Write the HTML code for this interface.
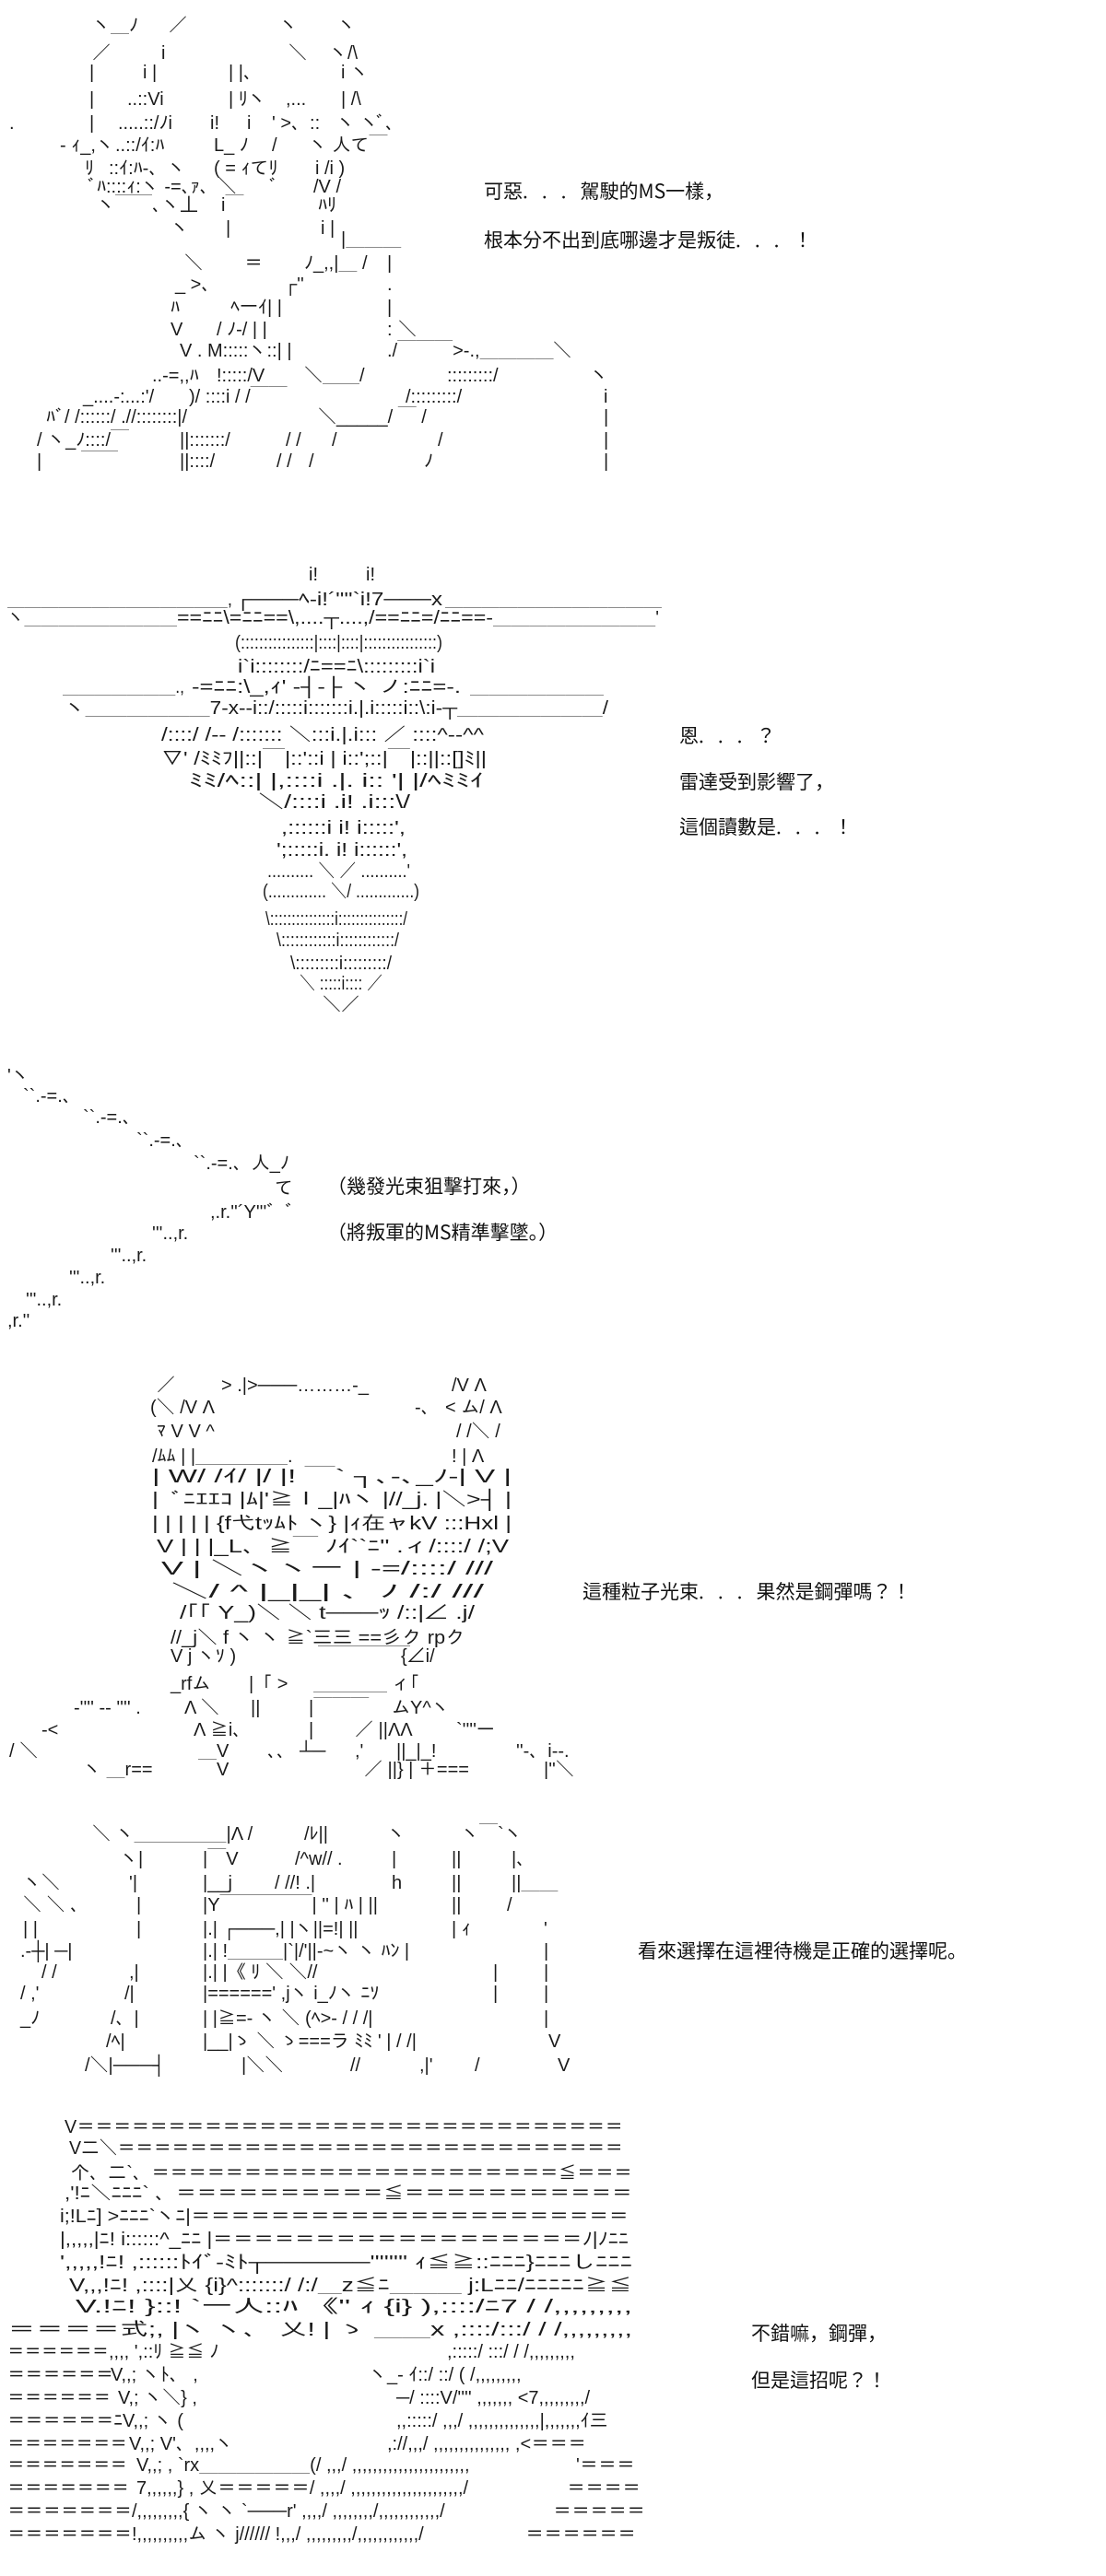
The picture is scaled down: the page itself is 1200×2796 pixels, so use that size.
<!DOCTYPE html>
<html><head><meta charset="utf-8"><style>
html,body{margin:0;padding:0;background:#fff;}
svg{display:block;}
.a{font-family:"Liberation Sans","IPAGothic","Noto Sans CJK JP",sans-serif;font-size:20px;fill:#1a1a1a;white-space:pre;}
.d{font-family:"Noto Sans CJK JP","Liberation Sans",sans-serif;font-size:21px;fill:#111;}
.p{letter-spacing:15px;}
</style></head><body>
<svg width="1200" height="2796" viewBox="0 0 1200 2796" xmlns="http://www.w3.org/2000/svg">
<g class="a">
<!-- Panel 1 -->
<text y="34"><tspan x="100">ヽ＿ﾉ</tspan><tspan x="183">／</tspan><tspan x="303">ヽ</tspan><tspan x="366">ヽ</tspan></text>
<text y="64"><tspan x="100">／</tspan><tspan x="175">i</tspan><tspan x="313">＼</tspan><tspan x="357">ヽ/\</tspan></text>
<text y="85"><tspan x="97">|</tspan><tspan x="155">i |</tspan><tspan x="248">| |、</tspan><tspan x="370">i ヽ</tspan></text>
<text y="114"><tspan x="97">|</tspan><tspan x="138">..::Vi</tspan><tspan x="248">| ﾘヽ</tspan><tspan x="310">,...</tspan><tspan x="370">| /\</tspan></text>
<text y="140"><tspan x="10">.</tspan><tspan x="97">|</tspan><tspan x="128">.....::/ﾉi</tspan><tspan x="228">i!</tspan><tspan x="268">i</tspan><tspan x="295">' &gt;、::</tspan><tspan x="365">ヽ ヽ</tspan><tspan x="408">ﾞ､</tspan></text>
<text y="164"><tspan x="65">- ｨ_,ヽ</tspan><tspan x="125">..::/ｲ:ﾊ</tspan><tspan x="232">L_ ﾉ</tspan><tspan x="295">/</tspan><tspan x="335">ヽ 人て￣</tspan></text>
<text y="189"><tspan x="92">ﾘ</tspan><tspan x="118">::ｲ:ﾊ-、ヽ</tspan><tspan x="232">( = ｨてﾘ</tspan><tspan x="342">i /i )</tspan></text>
<text y="209"><tspan x="95">ﾞﾊ::::ｨ:ヽ -=､ｧ、＼</tspan><tspan x="292">ﾞ</tspan><tspan x="340">/V /</tspan></text>
<text y="229"><tspan x="105">ヽ￣￣､ヽ丄</tspan><tspan x="240">i￣</tspan><tspan x="345">ﾊﾘ</tspan></text>
<text y="254"><tspan x="185">ヽ</tspan><tspan x="245">|</tspan><tspan x="348">i |</tspan></text>
<text y="266"><tspan x="370">|＿＿＿</tspan></text>
<text y="292"><tspan x="200">＼</tspan><tspan x="265">＝</tspan><tspan x="330">ﾉ_,,|＿ /</tspan><tspan x="420">|</tspan></text>
<text y="315"><tspan x="190">_ &gt;､</tspan><tspan x="308">┌''</tspan><tspan x="420">.</tspan></text>
<text y="340"><tspan x="185">ﾊ</tspan><tspan x="250">ﾍ一ｲ| |</tspan><tspan x="420">|</tspan></text>
<text y="364"><tspan x="185">V</tspan><tspan x="235">/ ﾉ-/ | |</tspan><tspan x="420">:</tspan><tspan x="432">＼</tspan></text>
<text y="387"><tspan x="195">V . M:::::ヽ::| |</tspan><tspan x="420">./￣￣￣&gt;-.,＿＿＿＿</tspan><tspan x="600">＼</tspan></text>
<text y="414"><tspan x="165">..-=,,ﾊ</tspan><tspan x="235">!:::::/V</tspan><tspan x="330">＼＿＿/</tspan><tspan x="485">:::::::::/</tspan><tspan x="640">ヽ</tspan></text>
<text y="437"><tspan x="90">_....-:...:'/</tspan><tspan x="205">)/ ::::i / /￣￣</tspan><tspan x="440">/:::::::::/</tspan><tspan x="655">i</tspan></text>
<text y="459"><tspan x="50">ﾊﾞ/ /::::::/ .//::::::::|/</tspan><tspan x="345">＼_____/ ￣ /</tspan><tspan x="655">|</tspan></text>
<text y="484"><tspan x="40">/ ヽ_ﾉ::::/￣</tspan><tspan x="195">||:::::::/</tspan><tspan x="310">/ /</tspan><tspan x="360">/</tspan><tspan x="475">/</tspan><tspan x="655">|</tspan></text>
<text y="507"><tspan x="40">|</tspan><tspan x="88">￣￣</tspan><tspan x="195">||::::/</tspan><tspan x="300">/ /</tspan><tspan x="335">/</tspan><tspan x="460">ﾉ</tspan><tspan x="655">|</tspan></text>

<!-- Panel 2 -->
<text y="630"><tspan x="335">i!</tspan><tspan x="397">i!</tspan></text>
<text x="8" y="657" textLength="244" lengthAdjust="spacingAndGlyphs">＿＿＿＿＿＿＿＿＿＿＿＿＿,</text>
<text x="255" y="657" textLength="225" lengthAdjust="spacingAndGlyphs">┌───ﾍ-i!´''''`i!7───x</text>
<text x="483" y="657" textLength="235" lengthAdjust="spacingAndGlyphs">＿＿＿＿＿＿＿＿＿＿＿＿</text>
<text x="8" y="677" textLength="184" lengthAdjust="spacingAndGlyphs">ヽ＿＿＿＿＿＿＿＿＿</text>
<text x="192" y="677" textLength="343" lengthAdjust="spacingAndGlyphs">==ﾆﾆ\=ﾆﾆ==\,....┬....,/==ﾆﾆ=/ﾆﾆ==-</text>
<text x="535" y="677" textLength="180" lengthAdjust="spacingAndGlyphs">＿＿＿＿＿＿＿＿＿'</text>
<text x="255" y="704" textLength="225" lengthAdjust="spacingAndGlyphs">(::::::::::::::::|::::|::::|::::::::::::::::)</text>
<text x="258" y="730" textLength="214" lengthAdjust="spacingAndGlyphs">i`i::::::::/ﾆ==ﾆ\:::::::::i`i</text>
<text x="68" y="752" textLength="132" lengthAdjust="spacingAndGlyphs">＿＿＿＿＿＿＿.,</text>
<text x="208" y="752" textLength="292" lengthAdjust="spacingAndGlyphs">-=ﾆﾆ:\_,ｨ' -┤-├ ヽ ノ:ﾆﾆ=-.</text>
<text x="510" y="752" textLength="145" lengthAdjust="spacingAndGlyphs">＿＿＿＿＿＿＿</text>
<text x="70" y="775" textLength="590" lengthAdjust="spacingAndGlyphs">ヽ＿＿＿＿＿＿7-x--i::/:::::i:::::::i.|.i:::::i::\:i-┬＿＿＿＿＿＿＿/</text>
<text x="175" y="804" textLength="350" lengthAdjust="spacingAndGlyphs">/::::/ /-- /::::::: ＼:::i.|.i::: ／ ::::^--^^</text>
<text x="175" y="830" textLength="353" lengthAdjust="spacingAndGlyphs">▽' /ﾐﾐﾌ||::|￣|::'::i | i::';::|￣|::||::[]ﾐ||</text>
<text x="205" y="854" textLength="320" lengthAdjust="spacingAndGlyphs">ﾐﾐ/ﾍ::|  |,::::i .|. i:: '| |/ﾍﾐﾐｲ</text>
<text x="280" y="877" textLength="165" lengthAdjust="spacingAndGlyphs">＼/::::i .i! .i:::\/</text>
<text x="305" y="905" textLength="135" lengthAdjust="spacingAndGlyphs">,::::::i  i!  i:::::',</text>
<text x="300" y="929" textLength="142" lengthAdjust="spacingAndGlyphs">';:::::i.  i!  i::::::',</text>
<text x="290" y="952" textLength="155" lengthAdjust="spacingAndGlyphs">.......... ＼ ／ ..........'</text>
<text x="285" y="974" textLength="170" lengthAdjust="spacingAndGlyphs">(............. ＼/ .............)</text>
<text x="288" y="1004" textLength="154" lengthAdjust="spacingAndGlyphs">\:::::::::::::::i:::::::::::::::/</text>
<text x="300" y="1027" textLength="133" lengthAdjust="spacingAndGlyphs">\::::::::::::i::::::::::::/</text>
<text x="315" y="1052" textLength="110" lengthAdjust="spacingAndGlyphs">\:::::::::i:::::::::/</text>
<text x="325" y="1074" textLength="90" lengthAdjust="spacingAndGlyphs">＼ :::::i:::: ／</text>
<text x="350" y="1097">＼／</text>

<!-- Panel 3 -->
<text y="1174"><tspan x="8">'ヽ</tspan></text>
<text y="1196"><tspan x="25">``.-=.、</tspan></text>
<text y="1219"><tspan x="90">``.-=.、</tspan></text>
<text y="1244"><tspan x="148">``.-=.、</tspan></text>
<text y="1269"><tspan x="210">``.-=.、人_ﾉ</tspan></text>
<text y="1296"><tspan x="298">て</tspan></text>
<text y="1322"><tspan x="228">,.r.''´Y'''ﾞ ﾞ</tspan></text>
<text y="1345"><tspan x="165">'''..,r.</tspan></text>
<text y="1369"><tspan x="120">'''..,r.</tspan></text>
<text y="1393"><tspan x="75">'''..,r.</tspan></text>
<text y="1417"><tspan x="28">'''..,r.</tspan></text>
<text y="1440"><tspan x="8">,r.''</tspan></text>

<!-- Panel 4 -->
<text y="1510"><tspan x="170">／</tspan><tspan x="240">&gt; .|&gt;───………-_</tspan><tspan x="490">/V  Λ</tspan></text>
<text y="1534"><tspan x="163">(＼ /V Λ</tspan><tspan x="450">-、</tspan><tspan x="483">&lt; ム/ Λ</tspan></text>
<text y="1560"><tspan x="170">ﾏ V   V ^</tspan><tspan x="495">/ /＼ /</tspan></text>
<text y="1587"><tspan x="165">/ﾑﾑ   |   |＿＿＿＿＿.</tspan><tspan x="490">! |  Λ</tspan></text>
<text x="165" y="1609" textLength="390" lengthAdjust="spacingAndGlyphs">|   W/  /ｲ/ |/ |!   ￣`   ┐､-､_ﾉ-| V |</text>
<text x="165" y="1634" textLength="390" lengthAdjust="spacingAndGlyphs">|   ﾞﾆｴｴｺ |ﾑ|'≧ｌ_|ﾊヽ   |//_j.  |＼&gt;┤ |</text>
<text x="165" y="1660" textLength="390" lengthAdjust="spacingAndGlyphs">|    | | | | {f弋tｯﾑﾄ ヽ}  |ｨ在ャkV :::Hxl |</text>
<text x="170" y="1685" textLength="382" lengthAdjust="spacingAndGlyphs">V    | | |_L、≧￣     ﾉｲ``ﾆ'' .ィ/::::/ /;V</text>
<text x="175" y="1709" textLength="360" lengthAdjust="spacingAndGlyphs">V   | ＼ヽヽ一       |     -=/::::/ ///</text>
<text x="185" y="1734" textLength="340" lengthAdjust="spacingAndGlyphs">＼/ ^ |_|_|        、ﾉ     /:/ ///</text>
<text x="195" y="1757" textLength="320" lengthAdjust="spacingAndGlyphs">/｢｢ Y_)＼ ＼   t───ｯ   /::|∠ .j/</text>
<text x="185" y="1784" textLength="320" lengthAdjust="spacingAndGlyphs">//_j＼ f ヽ ヽ  ≧`三三 ==彡ク rpク</text>
<text y="1804"><tspan x="185">V j   ヽｿ )</tspan><tspan x="345">￣￣￣￣￣</tspan><tspan x="435">{∠i/</tspan></text>
<text y="1834"><tspan x="185">_rfム</tspan><tspan x="270">|「 &gt;</tspan><tspan x="340">＿＿＿＿</tspan><tspan x="425">ィ｢</tspan></text>
<text y="1860"><tspan x="80">-'''' -- '''' .</tspan><tspan x="200">Λ ＼</tspan><tspan x="272">||</tspan><tspan x="335">|￣￣￣</tspan><tspan x="425">ムY^ヽ</tspan></text>
<text y="1884"><tspan x="45">-&lt;</tspan><tspan x="210">Λ  ≧i、</tspan><tspan x="335">|</tspan><tspan x="385">／ ||ΛΛ</tspan><tspan x="495">`''''ー</tspan></text>
<text y="1907"><tspan x="10">/    ＼</tspan><tspan x="235">V</tspan><tspan x="290">､､</tspan><tspan x="325">┴─</tspan><tspan x="385">,'</tspan><tspan x="430">||_|_!</tspan><tspan x="560">''-、i--.</tspan></text>
<text y="1927"><tspan x="90">ヽ ＿r==</tspan><tspan x="215">￣V</tspan><tspan x="395">／ ||} | ＋===</tspan><tspan x="590">|''＼</tspan></text>

<!-- Panel 5 -->
<text y="1997"><tspan x="100">＼ ヽ＿＿＿＿＿|Λ /</tspan><tspan x="330">/ﾚ||</tspan><tspan x="420">ヽ</tspan><tspan x="500">ヽ￣`ヽ</tspan></text>
<text y="2024"><tspan x="130">ヽ|</tspan><tspan x="220">|￣V</tspan><tspan x="320">/^w// .</tspan><tspan x="425">|</tspan><tspan x="490">||</tspan><tspan x="555">|、</tspan></text>
<text y="2050"><tspan x="25">ヽ＼</tspan><tspan x="140">'|</tspan><tspan x="220">|__j</tspan><tspan x="298">/   //! .|</tspan><tspan x="425">h</tspan><tspan x="490">||</tspan><tspan x="555">||＿＿</tspan></text>
<text y="2074"><tspan x="25">＼ ＼ 、</tspan><tspan x="148">|</tspan><tspan x="220">|Y￣￣￣￣￣|  '' | ﾊ |  ||</tspan><tspan x="490">||</tspan><tspan x="550">/</tspan></text>
<text y="2100"><tspan x="25">|  |</tspan><tspan x="148">|</tspan><tspan x="220">|.|  ┌───,| |ヽ||=!|  ||</tspan><tspan x="490">| ｨ</tspan><tspan x="590">'</tspan></text>
<text y="2124"><tspan x="22">.-┼|  ─|</tspan><tspan x="220">|.|  !＿＿＿|`|/'||-~ヽ ヽ  ﾊﾝ |</tspan><tspan x="590">|</tspan></text>
<text y="2147"><tspan x="45">/ /</tspan><tspan x="140">,|</tspan><tspan x="220">|.|       |《 ﾘ   ＼ ＼//</tspan><tspan x="535">|</tspan><tspan x="590">|</tspan></text>
<text y="2170"><tspan x="22">/ ,'</tspan><tspan x="135">/|</tspan><tspan x="220">|======' ,jヽ   i_ﾉヽ ﾆｿ</tspan><tspan x="535">|</tspan><tspan x="590">|</tspan></text>
<text y="2197"><tspan x="22">_ﾉ</tspan><tspan x="120">/、|</tspan><tspan x="220">| |≧=-   ヽ ＼ (ﾍ&gt;- / /    /|</tspan><tspan x="590">|</tspan></text>
<text y="2222"><tspan x="115">/ﾍ|</tspan><tspan x="220">|__|ゝ ＼ ゝ===ラ ﾐﾐ ' | /  /|</tspan><tspan x="595">V</tspan></text>
<text y="2248"><tspan x="92">/＼|───┤</tspan><tspan x="262">|＼＼</tspan><tspan x="380">//</tspan><tspan x="455">,|'</tspan><tspan x="515">/</tspan><tspan x="605">V</tspan></text>

<!-- Panel 6 -->
<text x="70" y="2315" textLength="606" lengthAdjust="spacingAndGlyphs">V＝＝＝＝＝＝＝＝＝＝＝＝＝＝＝＝＝＝＝＝＝＝＝＝＝＝＝＝＝＝</text>
<text x="75" y="2338" textLength="601" lengthAdjust="spacingAndGlyphs">V二＼＝＝＝＝＝＝＝＝＝＝＝＝＝＝＝＝＝＝＝＝＝＝＝＝＝＝＝＝</text>
<text x="77" y="2365" textLength="609" lengthAdjust="spacingAndGlyphs">个、二`、＝＝＝＝＝＝＝＝＝＝＝＝＝＝＝＝＝＝＝＝＝＝≦＝＝＝</text>
<text x="70" y="2387" textLength="616" lengthAdjust="spacingAndGlyphs">,'!ﾆ＼ﾆﾆﾆ`  、＝＝＝＝＝＝＝＝＝＝≦＝＝＝＝＝＝＝＝＝＝＝</text>
<text x="65" y="2412" textLength="617" lengthAdjust="spacingAndGlyphs">i;!Lﾆ]  &gt;ﾆﾆﾆ`ヽﾆ|＝＝＝＝＝＝＝＝＝＝＝＝＝＝＝＝＝＝＝＝＝＝</text>
<text x="65" y="2437" textLength="617" lengthAdjust="spacingAndGlyphs">|,,,,,|ﾆ!  i::::::^_ﾆﾆ |＝＝＝＝＝＝＝＝＝＝＝＝＝＝＝＝＝＝ﾉ|ﾉﾆﾆ</text>
<text x="65" y="2462" textLength="621" lengthAdjust="spacingAndGlyphs">',,,,,!ﾆ!  ,::::::ﾄｲﾞ-ﾐﾄ┬──────''''''''  ｨ≦≧::ﾆﾆﾆ}ﾆﾆﾆしﾆﾆﾆ</text>
<text x="75" y="2487" textLength="611" lengthAdjust="spacingAndGlyphs">V,,,!ﾆ!   ,::::|乂  {i}^:::::::/  /:/＿z≦ﾆ＿＿＿  j:Lﾆﾆ/ﾆﾆﾆﾆﾆ≧≦</text>
<text x="82" y="2510" textLength="604" lengthAdjust="spacingAndGlyphs">V.!ﾆ!   }::!    `一人::ﾊ  《''  ｨ  {i}    ),::::/ﾆ7   /  /,,,,,,,,,</text>
<text x="8" y="2535" textLength="678" lengthAdjust="spacingAndGlyphs">＝＝＝＝式;,   |ヽ ヽ、      乂!  |    ゝ ＿＿x    ,::::/:::/   /  /,,,,,,,,,</text>
<text y="2559"><tspan x="8" textLength="110" lengthAdjust="spacingAndGlyphs">＝＝＝＝＝＝</tspan><tspan x="118">,,,,  ',::ﾘ ≧≦     ﾉ</tspan><tspan x="485">,:::::/ :::/   /  /,,,,,,,,,</tspan></text>
<text y="2584"><tspan x="8" textLength="115" lengthAdjust="spacingAndGlyphs">＝＝＝＝＝＝</tspan><tspan x="120">V,,;   ヽﾄ、     ,</tspan><tspan x="400">ヽ_-  ｲ::/ ::/   (  /,,,,,,,,,</tspan></text>
<text y="2609"><tspan x="8" textLength="112" lengthAdjust="spacingAndGlyphs">＝＝＝＝＝＝</tspan><tspan x="128">V,;   ヽ＼}    ,</tspan><tspan x="430">─/ ::::V/''''  ,,,,,,, &lt;7,,,,,,,,,/</tspan></text>
<text y="2634"><tspan x="8" textLength="125" lengthAdjust="spacingAndGlyphs">＝＝＝＝＝＝ﾆ</tspan><tspan x="133">V,,;    ヽ    (</tspan><tspan x="430">,,:::::/ ,,,/ ,,,,,,,,,,,,,,|,,,,,,,ｲ三</tspan></text>
<text y="2659"><tspan x="8" textLength="130" lengthAdjust="spacingAndGlyphs">＝＝＝＝＝＝＝</tspan><tspan x="140">V,,;    V'、,,,,ヽ</tspan><tspan x="420">,://,,,/ ,,,,,,,,,,,,,,,   ,&lt;＝＝＝</tspan></text>
<text y="2682"><tspan x="8" textLength="130" lengthAdjust="spacingAndGlyphs">＝＝＝＝＝＝＝</tspan><tspan x="148">V,,;    ,  `rx＿＿＿＿＿＿(/ ,,,/ ,,,,,,,,,,,,,,,,,,,,,,,</tspan><tspan x="625">'＝＝＝</tspan></text>
<text y="2707"><tspan x="8" textLength="132" lengthAdjust="spacingAndGlyphs">＝＝＝＝＝＝＝</tspan><tspan x="148">7,,,,,,}   ,   乂＝＝＝＝＝/ ,,,,/ ,,,,,,,,,,,,,,,,,,,,,,/</tspan><tspan x="615">＝＝＝＝</tspan></text>
<text y="2732"><tspan x="8" textLength="135" lengthAdjust="spacingAndGlyphs">＝＝＝＝＝＝＝</tspan><tspan x="143">/,,,,,,,,,{    ヽ ヽ   `───r' ,,,,/ ,,,,,,,,/,,,,,,,,,,,,/</tspan><tspan x="600">＝＝＝＝＝</tspan></text>
<text y="2757"><tspan x="8" textLength="135" lengthAdjust="spacingAndGlyphs">＝＝＝＝＝＝＝</tspan><tspan x="143">!,,,,,,,,,,ム    ヽ  j////// !,,,/ ,,,,,,,,,/,,,,,,,,,,,,/</tspan><tspan x="570">＝＝＝＝＝＝</tspan></text>
</g>

<g class="d">
<text x="525" y="215">可惡<tspan class="p">...</tspan>駕駛的MS一樣，</text>
<text x="525" y="268">根本分不出到底哪邊才是叛徒<tspan class="p">...</tspan>！</text>
<text x="737" y="806">恩<tspan class="p">...</tspan>？</text>
<text x="737" y="856">雷達受到影響了，</text>
<text x="737" y="905">這個讀數是<tspan class="p">...</tspan>！</text>
<text x="355" y="1295">（幾發光束狙擊打來，）</text>
<text x="355" y="1345">（將叛軍的MS精準擊墜。）</text>
<text x="632" y="1735">這種粒子光束<tspan class="p">...</tspan>果然是鋼彈嗎？！</text>
<text x="692" y="2125">看來選擇在這裡待機是正確的選擇呢。</text>
<text x="815" y="2540">不錯嘛，鋼彈，</text>
<text x="815" y="2591">但是這招呢？！</text>
</g>
</svg>
</body></html>
